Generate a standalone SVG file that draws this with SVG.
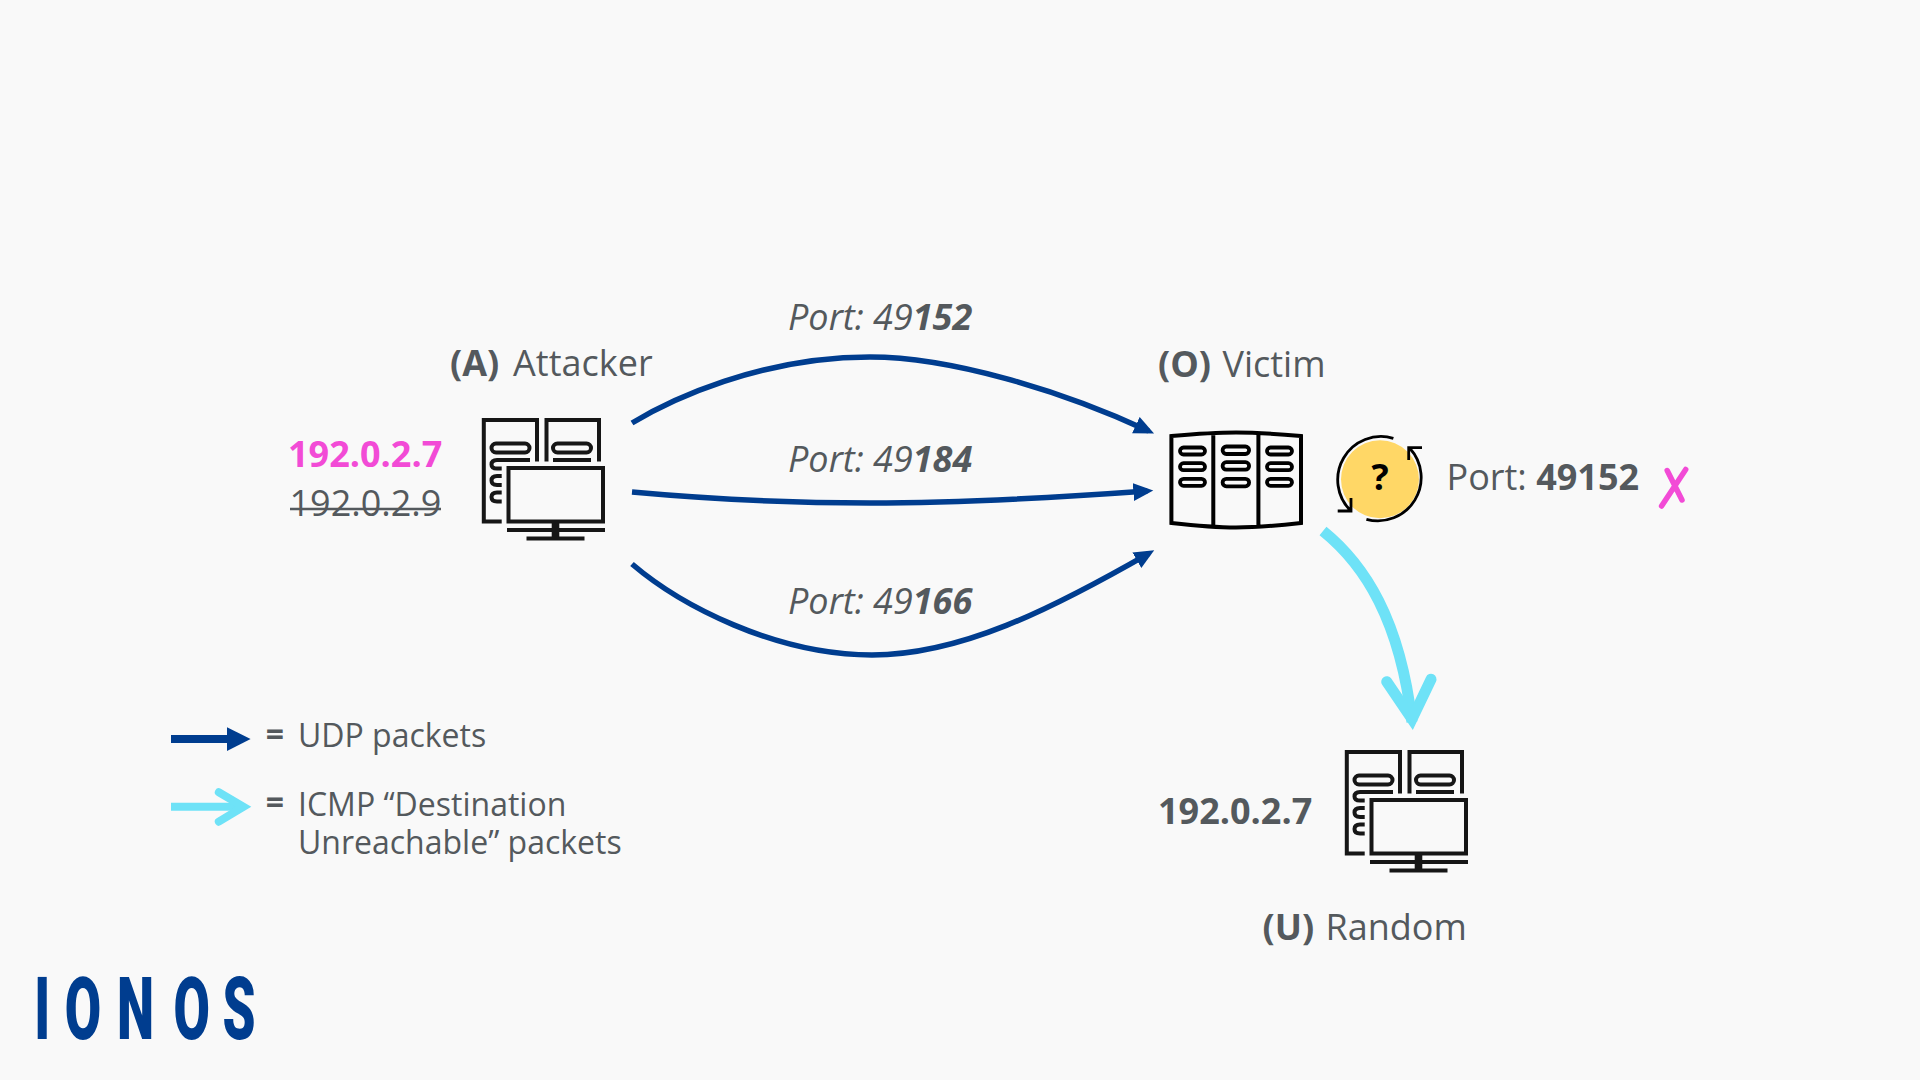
<svg xmlns="http://www.w3.org/2000/svg" xmlns:xlink="http://www.w3.org/1999/xlink" width="1920" height="1080" viewBox="0 0 1920 1080">
<style>
text{font-family:"Open Sans","Noto Sans","Liberation Sans",sans-serif;fill:#54595d}
.lab{font-size:36px}
.b{font-weight:700}
.port{font-size:36px;font-style:italic}
.leg{font-size:32px}
.ink{fill:none;stroke:#161616;stroke-width:4}
.udp{fill:none;stroke:#003d8f;stroke-width:5.5}
.icmp{fill:none;stroke:#6ee2f7}
</style>
<defs>
<marker id="udpHead" markerUnits="userSpaceOnUse" markerWidth="22" markerHeight="20" refX="14" refY="9" orient="auto"><path d="M0 0L20 9L0 18Z" fill="#003d8f"/></marker>
<g id="pc">
<path class="ink" d="M501.700 521.500H483.800V420H537V461.500M546.500 461.500V420H599V461.500"/>
<rect class="ink" x="491.500" y="443.500" width="38" height="9" rx="4.500"/>
<rect class="ink" x="553" y="443.500" width="38" height="9" rx="4.500"/>
<path class="ink" d="M530 460H497Q491.500 460 491.500 464.500Q491.500 468.500 497 468.500H501.700M501.700 476H497Q491.500 476 491.500 480.500Q491.500 485 497 485H501.700M501.700 492.500H497Q491.500 492.500 491.500 497Q491.500 501.500 497 501.500H501.700M553 460H591"/>
<rect class="ink" x="508.500" y="468" width="94.500" height="53.500"/>
<path class="ink" d="M507 530H605M526.500 538.500H584.500"/>
<path d="M551.700 522h7.600v15h-7.600z" fill="#161616"/>
</g>
</defs>
<rect width="1920" height="1080" fill="#f9f9f9"/>

<g id="connectors">
<path class="udp" marker-end="url(#udpHead)" d="M632 423C670 400 760 357 870 357C950 357 1060 390 1148.600 431"/>
<path class="udp" marker-end="url(#udpHead)" d="M632 492C720 500 800 503 870 503C950 503 1050 498 1147.300 491"/>
<path class="udp" marker-end="url(#udpHead)" d="M632 564C680 605 775 655 872 655C960 655 1050 610 1149 553.300"/>
<path class="icmp" stroke-width="11" d="M1323 531C1365 565 1400 620 1412 722"/>
<path class="icmp" stroke-width="11" stroke-linecap="round" d="M1386.700 681.700L1412 719L1431 679.300"/>
</g>

<g id="attacker">
<text class="lab" x="450" y="375.700"><tspan class="b">(A)</tspan> <tspan dx="4.500">Attacker</tspan></text>
<text class="lab b" x="288" y="466.500" style="fill:#f24bd6">192.0.2.7</text>
<text class="lab" x="289.500" y="516">192.0.2.9</text>
<line x1="290" y1="509" x2="441" y2="509" stroke="#54595d" stroke-width="2.500"/>
<use xlink:href="#pc" href="#pc"/>
</g>

<g id="victim">
<text class="lab" x="1158" y="377"><tspan class="b">(O)</tspan> <tspan dx="2">Victim</tspan></text>
<path class="ink" style="stroke:#000" d="M1171.400 436Q1212 432.500 1236 432.500Q1260 432.500 1301 436V523Q1260 527.500 1236 527.500Q1212 527.500 1171.400 523ZM1213.300 433V527M1258.400 433V527"/>
<g class="ink" style="stroke:#000;stroke-width:3.800">
<rect x="1180" y="447.500" width="25" height="7" rx="3.500"/><rect x="1180" y="463.200" width="25" height="7" rx="3.500"/><rect x="1180" y="478.800" width="25" height="7" rx="3.500"/>
<rect x="1222.600" y="446.500" width="26.500" height="7.500" rx="3.700"/><rect x="1222.600" y="462.200" width="26.500" height="7.500" rx="3.700"/><rect x="1222.600" y="478.800" width="26.500" height="7.500" rx="3.700"/>
<rect x="1267" y="447.500" width="25" height="7" rx="3.500"/><rect x="1267" y="463.200" width="25" height="7" rx="3.500"/><rect x="1267" y="478.800" width="25" height="7" rx="3.500"/>
</g>
</g>

<g id="port-check">
<circle cx="1380" cy="479.300" r="39" fill="#ffd766"/>
<path fill="none" stroke="#000" stroke-width="2.800" d="M1393.400 438.300A43.300 43.300 0 0 0 1351 511M1337.700 511H1351V498M1366.400 519.300A43.300 43.300 0 0 0 1409.800 448.300M1422 447.700H1408.700V460"/>
<text x="1380" y="489.500" text-anchor="middle" font-size="36" font-weight="700" style="fill:#000">?</text>
<text class="lab" x="1446.500" y="489.500">Port: <tspan class="b">49152</tspan></text>
<path fill="none" stroke="#f24bd6" stroke-width="5.500" stroke-linecap="round" d="M1667.200 470.500L1682 500M1685.700 469.500L1661.600 506"/>
</g>

<g id="port-labels">
<text class="port" x="788" y="329.500">Port: 49<tspan class="b">152</tspan></text>
<text class="port" x="788" y="471.700">Port: 49<tspan class="b">184</tspan></text>
<text class="port" x="788" y="613.500">Port: 49<tspan class="b">166</tspan></text>
</g>

<g id="random">
<text class="lab b" x="1158" y="823.500">192.0.2.7</text>
<use xlink:href="#pc" href="#pc" transform="translate(863 332)"/>
<text class="lab" x="1262.500" y="940"><tspan class="b">(U)</tspan> <tspan dx="2">Random</tspan></text>
</g>

<g id="legend">
<rect x="171" y="735" width="57" height="8" fill="#003d8f"/>
<path d="M227 727.300L250.600 739L227 751Z" fill="#003d8f"/>
<text class="leg b" x="275" y="746" text-anchor="middle">=</text>
<text class="leg" x="298" y="747">UDP packets</text>
<path class="icmp" d="M171 806.700H243" stroke-width="8"/>
<path class="icmp" d="M218.800 792.300L243.500 806.700L218.800 821.700" stroke-width="8" stroke-linecap="round"/>
<text class="leg b" x="275" y="814" text-anchor="middle">=</text>
<text class="leg" x="298" y="815.500">ICMP “Destination</text>
<text class="leg" x="298" y="854">Unreachable” packets</text>
</g>

<g id="logo">
<text y="1039" x="57 108 195 289 371" transform="scale(.6 1)" font-size="88" font-weight="900" style="font-family:'Roboto','Open Sans',sans-serif;fill:#003d8f">IONOS</text>
</g>
</svg>
